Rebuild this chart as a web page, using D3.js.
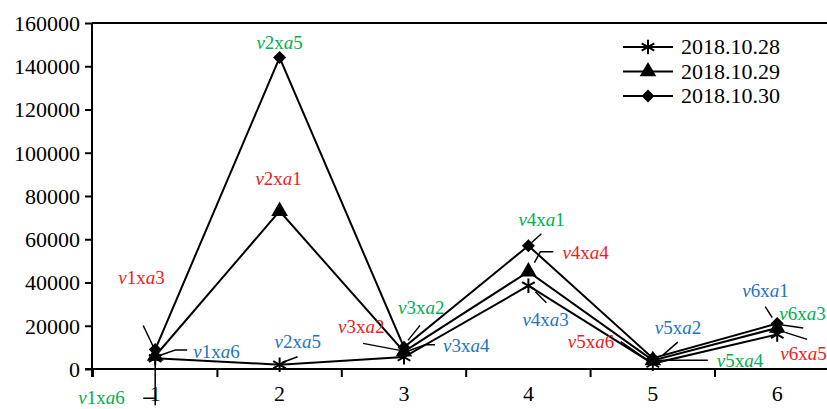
<!DOCTYPE html>
<html>
<head>
  <meta charset="utf-8">
  <script src="https://d3js.org/d3.v7.min.js"></script>
  <style>
    body { margin: 0; background: #fff; }
    text { font-family: "Liberation Serif", "Times New Roman", serif; }
  </style>
</head>
<body>
<script>
  // chart data
  var categories = ["1", "2", "3", "4", "5", "6"];
  var seriesNames = ["2018.10.28", "2018.10.29", "2018.10.30"];
  var s1028 = [5000, 2000, 5500, 38500, 2500, 16000];
  var s1029 = [6000, 73000, 8000, 45000, 4000, 19000];
  var s1030 = [9000, 144000, 10000, 57000, 5000, 21000];
  var yTicks = [0, 20000, 40000, 60000, 80000, 100000, 120000, 140000, 160000];

  // point notes: [series, category, vIndex, aIndex, colour key]
  var noteText = [
    [2, 0, "1", "3", "r"], [1, 0, "1", "6", "b"], [0, 0, "1", "6", "g"],
    [2, 1, "2", "5", "g"], [1, 1, "2", "1", "r"], [0, 1, "2", "5", "b"],
    [2, 2, "3", "2", "r"], [2, 2, "3", "2", "g"], [1, 2, "3", "4", "b"],
    [2, 3, "4", "1", "g"], [1, 3, "4", "4", "r"], [0, 3, "4", "3", "b"],
    [0, 4, "5", "6", "r"], [2, 4, "5", "2", "b"], [1, 4, "5", "4", "g"],
    [2, 5, "6", "1", "b"], [1, 5, "6", "3", "g"], [0, 5, "6", "5", "r"]
  ];

  var width = 827, height = 409;
  var colours = { r: "#ed1c24", g: "#00b050", b: "#1f74c2" };

  var svg = d3.select("body").append("svg")
    .attr("width", width)
    .attr("height", height);

  var x = d3.scaleBand().domain(categories).range([93, 93 + 124.4 * 6]);
  var y = d3.scaleLinear().domain([0, 160000]).range([369, 23]);
  var cx = function(i) { return x(categories[i]) + x.bandwidth() / 2; };

  // frame top line
  svg.append("line")
    .attr("x1", 92).attr("x2", width)
    .attr("y1", y(160000)).attr("y2", y(160000))
    .attr("stroke", "#000").attr("stroke-width", 2);

  // y axis
  var yAxis = svg.append("g")
    .attr("transform", "translate(92,0)")
    .call(d3.axisLeft(y).tickValues(yTicks).tickSize(7).tickPadding(5).tickFormat(d3.format("d")));
  yAxis.select(".domain").attr("stroke-width", 2).attr("d", "M0," + y(160000) + "V" + (y(0) + 8));
  yAxis.selectAll(".tick line").attr("stroke-width", 2);
  yAxis.selectAll("text").style("font-size", "22px").attr("dy", "0.34em")
    .style("font-family", "Liberation Serif");

  // x axis
  var xAxis = svg.append("g")
    .attr("transform", "translate(0," + y(0) + ")")
    .call(d3.axisBottom(x).tickSize(0).tickPadding(16));
  xAxis.select(".domain").attr("stroke-width", 2).attr("d", "M85,0H" + width);
  xAxis.selectAll("text").style("font-size", "22px").attr("dy", "0.71em")
    .style("font-family", "Liberation Serif");
  // boundary ticks between categories
  svg.append("g").selectAll("line")
    .data(d3.range(categories.length + 1))
    .join("line")
    .attr("x1", function(d) { return 93 + d * x.bandwidth(); })
    .attr("x2", function(d) { return 93 + d * x.bandwidth(); })
    .attr("y1", y(0)).attr("y2", y(0) + 8)
    .attr("stroke", "#000").attr("stroke-width", 2);

  var allSeries = [s1028, s1029, s1030];
  var symbols = [
    d3.symbol().type(d3.symbolAsterisk).size(150),
    d3.symbol().type(d3.symbolTriangle).size(120),
    d3.symbol().type(d3.symbolSquare).size(85)
  ];
  function drawSymbol(g, k, px, py) {
    var p = g.append("path")
      .attr("d", symbols[k]())
      .attr("transform", "translate(" + px + "," + py + ")" + (k === 2 ? " rotate(45)" : ""));
    if (k === 0) p.attr("fill", "none").attr("stroke", "#000").attr("stroke-width", 2);
    else p.attr("fill", "#000");
  }

  var line = d3.line()
    .x(function(d, i) { return cx(i); })
    .y(function(d) { return y(d); });

  allSeries.forEach(function(vals, k) {
    var g = svg.append("g");
    g.append("path")
      .attr("d", line(vals))
      .attr("fill", "none")
      .attr("stroke", "#000")
      .attr("stroke-width", 2);
    vals.forEach(function(v, i) { drawSymbol(g, k, cx(i), y(v)); });
  });

  // note layout: text offset and leader offsets relative to the point
  var noteLayout = [
    { t: [-37, -66], a: "start", p: [[-12, -24], [-2, -3]] },
    { t: [38, 2], a: "start", p: [[32, -6], [20, -6], [3, 0]] },
    { t: [-77, 46], a: "start", p: [[-12, 40], [0, 40], [0, 47], [0, 3]] },
    { t: [0, -9], a: "middle", p: [] },
    { t: [-1, -26], a: "middle", p: [] },
    { t: [-5, -17], a: "start", p: [[18, -8], [2, -2]] },
    { t: [-66, -14], a: "start", p: [[-41, -4], [-4, 3]] },
    { t: [-6, -33], a: "start", p: [[16, -22], [4, -7]] },
    { t: [39, 0], a: "start", p: [[31, -7], [21, -7], [5, -1]] },
    { t: [-10, -20], a: "start", p: [[13, -12], [3, -3]] },
    { t: [34, -13], a: "start", p: [[25, -20], [12, -20], [6, -9]] },
    { t: [-6, 40], a: "start", p: [[18, 17], [7, 6]] },
    { t: [-85, -16], a: "start", p: [[-32, -22], [-6, -4]] },
    { t: [2, -24], a: "start", p: [[25, -16], [10, -3]] },
    { t: [64, 7], a: "start", p: [[55, 0], [29, 0], [5, 0]] },
    { t: [-35, -27], a: "start", p: [[-12, -17], [-5, -6]] },
    { t: [2, -8], a: "start", p: [[26, 0], [5, -3]] },
    { t: [3, 26], a: "start", p: [[30, 5], [8, -2]] }
  ];

  var notes = svg.append("g");
  noteText.forEach(function(n, j) {
    var lay = noteLayout[j];
    var px = cx(n[1]), py = y(allSeries[n[0]][n[1]]);
    if (lay.p.length) {
      notes.append("path")
        .attr("d", d3.line()(lay.p.map(function(o) { return [px + o[0], py + o[1]]; })))
        .attr("fill", "none").attr("stroke", "#000").attr("stroke-width", 1.5);
    }
    var t = notes.append("text")
      .attr("x", px + lay.t[0]).attr("y", py + lay.t[1])
      .attr("text-anchor", lay.a)
      .attr("fill", colours[n[4]])
      .style("font-size", "19px");
    t.append("tspan").style("font-style", "italic").text("v");
    t.append("tspan").text(n[2] + "x");
    t.append("tspan").style("font-style", "italic").text("a");
    t.append("tspan").text(n[3]);
  });

  // legend
  var legend = svg.append("g");
  seriesNames.forEach(function(name, k) {
    var ly = 47 + k * 24.5;
    legend.append("line")
      .attr("x1", 623).attr("x2", 673).attr("y1", ly).attr("y2", ly)
      .attr("stroke", "#000").attr("stroke-width", 2);
    drawSymbol(legend, k, 648, ly);
    legend.append("text")
      .attr("x", 681).attr("y", ly + 7)
      .style("font-size", "22px")
      .text(name);
  });
</script>
</body>
</html>
